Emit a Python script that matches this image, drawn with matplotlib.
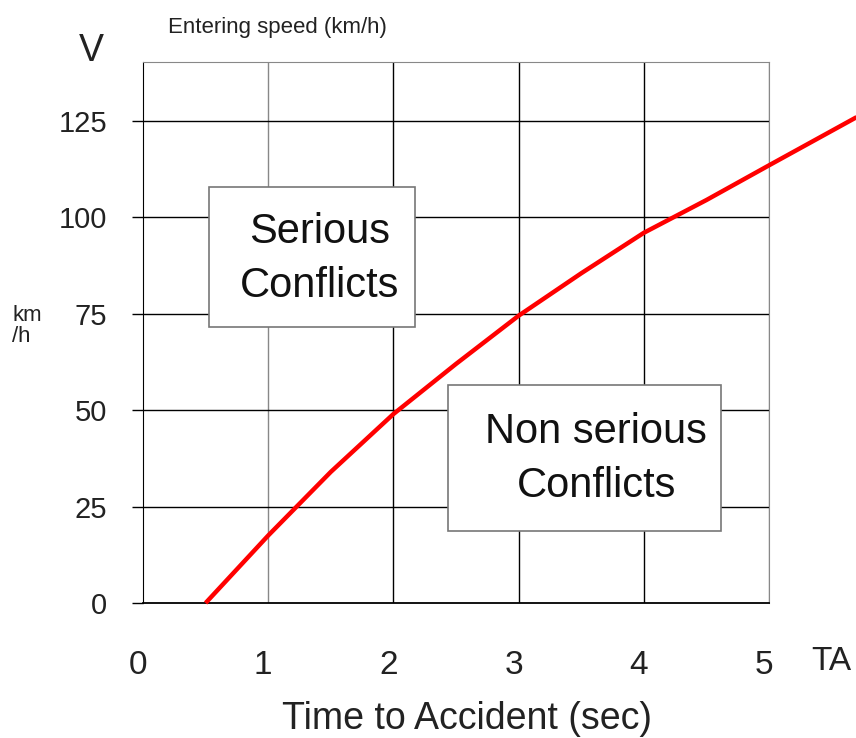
import matplotlib.pyplot as plt
import matplotlib.transforms as mtransforms
from matplotlib.patches import Rectangle

# curve: time to accident (s) vs entering speed (km/h)
tta = [0.5, 1.0, 1.5, 2.0, 2.5, 3.0, 3.5, 4.0, 4.5, 5.0, 5.7]
speed = [0, 17.5, 34, 49, 62, 74.5, 85.5, 96, 104.5, 113.5, 126]

xticks = [0, 1, 2, 3, 4, 5]
yticks = [0, 25, 50, 75, 100, 125]

plt.rcParams['font.family'] = ['Liberation Sans', 'DejaVu Sans']
txt = '#222222'

fig = plt.figure(figsize=(8.56, 7.38), dpi=100)
ax = fig.add_axes([143/856, 1 - 603/738, 626/856, 541/738])
ax.set_xlim(0, 5)
ax.set_ylim(0, 140.3)

# grid
for x in xticks[1:]:
    c = '#888888' if x in (1, 5) else 'black'
    ax.axvline(x, color=c, lw=1.0, zorder=1)
for y in yticks[1:]:
    ax.axhline(y, color='black', lw=1.0, zorder=1)
for s in ['top', 'right']:
    ax.spines[s].set_color('#888888')
ax.spines['left'].set_color('black')
ax.spines['bottom'].set_color('black')
ax.spines['bottom'].set_linewidth(1.3)

ax.set_yticks(yticks)
ax.set_yticklabels([str(v) for v in yticks], fontsize=21, color=txt)
ax.tick_params(axis='y', length=8, width=1, pad=18)
ax.set_xticks(xticks)
ax.set_xticklabels([str(v) for v in xticks], fontsize=24, color=txt)
ax.tick_params(axis='x', length=0, pad=34)
shift = mtransforms.ScaledTranslation(-5/100, 0, fig.dpi_scale_trans)
for lbl in ax.get_xticklabels():
    lbl.set_transform(lbl.get_transform() + shift)

ax.plot(tta, speed, color='#ff0000', lw=3.2, clip_on=False, zorder=5,
        solid_capstyle='butt')

# boxes
ax.add_patch(Rectangle((0.525, 71.6), 1.645, 36.4, facecolor='white',
                       edgecolor='#777777', lw=1.2, zorder=3))
ax.text(1.41, 89.3, 'Serious\nConflicts', ha='center', va='center',
        fontsize=30, linespacing=1.45, zorder=4, color='#111111')
ax.add_patch(Rectangle((2.44, 18.7), 2.18, 37.8, facecolor='white',
                       edgecolor='#777777', lw=1.2, zorder=3))
ax.text(3.62, 37.3, 'Non serious\nConflicts', ha='center', va='center',
        fontsize=30, linespacing=1.45, zorder=4, color='#111111')

# labels
fig.text(168/856, 1 - 28/738, 'Entering speed (km/h)', fontsize=16,
         va='center', ha='left', color=txt)
fig.text(91/856, 1 - 51/738, 'V', fontsize=27, ha='center', va='center',
         color=txt)
fig.text(12/856, 1 - 326/738, 'km\n/h', fontsize=16, ha='left', va='center',
         linespacing=1.05, color=txt)
fig.text(831/856, 1 - 662/738, 'TA', fontsize=24, ha='center', va='center',
         color=txt)
fig.text(467/856, 1 - 719/738, 'Time to Accident (sec)', fontsize=27,
         ha='center', va='center', color=txt)

fig.savefig('out.png', dpi=100)
